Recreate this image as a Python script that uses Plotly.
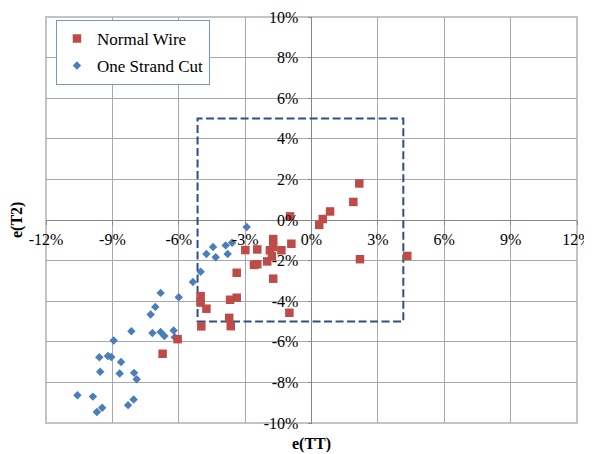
import plotly.graph_objects as go

# Data in percent units
normal_x = [2.16, 1.89, 0.84, 0.51, 0.35, -0.97, -0.91, -1.73, -1.73, -1.88, -1.36, -1.79,
            -2.00, -2.45, -2.99, -2.45, -2.60, -1.73, -3.38, -3.38, -3.68, -3.72, -3.65,
            -5.01, -5.01, -4.75, -4.98, -1.00, 2.19, 4.33, -6.05, -6.73]
normal_y = [1.80, 0.89, 0.42, 0.05, -0.24, 0.18, -1.17, -0.94, -1.33, -1.49, -1.49, -1.79,
            -2.04, -1.45, -1.48, -2.18, -2.21, -2.89, -2.60, -3.83, -3.93, -4.82, -5.23,
            -3.75, -4.07, -4.37, -5.24, -4.57, -1.93, -1.77, -5.87, -6.59]

cut_x = [-10.58, -9.88, -9.70, -9.46, -9.59, -9.55, -9.20, -9.05, -8.94, -8.61, -8.67, -8.14,
         -8.02, -7.90, -8.29, -8.04, -7.19, -7.27, -7.06, -6.82, -6.82, -6.65, -6.23, -6.18,
         -6.00, -5.36, -5.01, -4.75, -4.45, -4.33, -3.88, -3.79, -3.59, -2.93]
cut_y = [-8.63, -8.70, -9.46, -9.25, -6.76, -7.48, -6.70, -6.75, -5.94, -6.99, -7.56, -5.48,
         -7.53, -7.84, -9.12, -8.84, -5.57, -4.66, -4.28, -3.59, -5.52, -5.71, -5.44, -5.78,
         -3.81, -3.05, -2.55, -1.67, -1.33, -1.83, -1.25, -1.67, -1.12, -0.34]

box_x = [-5.15, 4.15]
box_y = [-5.0, 5.0]

x_ticks = list(range(-12, 13, 3))
y_ticks = list(range(-10, 11, 2))

FONT = "Times New Roman, Liberation Serif, serif"

fig = go.Figure()
fig.add_trace(go.Scatter(
    x=cut_x, y=cut_y, mode="markers", name="One Strand Cut",
    marker=dict(symbol="diamond", size=6.5, color="#4a7ebb", line=dict(width=0)),
    legendgroup="b", legendrank=2))
fig.add_trace(go.Scatter(
    x=normal_x, y=normal_y, mode="markers", name="Normal Wire",
    marker=dict(symbol="square", size=8.5, color="#be4b48", line=dict(width=0)),
    legendgroup="a", legendrank=1))

fig.add_shape(type="rect", xref="x", yref="y",
              x0=box_x[0], x1=box_x[1], y0=box_y[0], y1=box_y[1],
              line=dict(color="#2c5085", width=2, dash="8px,3.5px"), layer="between")

# plot area border
fig.add_shape(type="rect", xref="paper", yref="paper", x0=0, x1=1, y0=0, y1=1,
              line=dict(color="#c4c4c4", width=2), layer="below")

common = dict(showgrid=True, gridcolor="#a8a8a8", gridwidth=1,
              zeroline=True, zerolinecolor="#868686", zerolinewidth=1,
              anchor="free", position=0.5, ticks="outside", ticklen=4,
              tickcolor="#868686", showline=False, automargin=False,
              ticklabeloverflow="allow",
              tickfont=dict(family=FONT, size=16, color="black"))

fig.update_xaxes(range=[-12, 12], tickvals=x_ticks,
                 ticktext=[f"{v}%" for v in x_ticks], ticklabelstandoff=1, **common)
fig.update_yaxes(range=[-10, 10], tickvals=y_ticks,
                 ticktext=[f"{v}%" for v in y_ticks], ticklabelstandoff=6, **common)

fig.add_annotation(text="<b>e(TT)</b>", xref="paper", yref="paper", x=0.5, y=0,
                   yshift=-21, yanchor="middle", showarrow=False,
                   font=dict(family=FONT, size=16, color="black"))
fig.add_annotation(text="<b>e(T2)</b>", xref="paper", yref="paper", x=0, y=0.5,
                   xshift=-29, xanchor="center", textangle=-90, showarrow=False,
                   font=dict(family=FONT, size=16, color="black"))

# page body has an 8px default margin: shrink figure and margins to compensate
fig.update_layout(
    template="none",
    font=dict(family=FONT, size=16, color="black"),
    width=584, height=446,
    margin=dict(l=38, r=15, t=9, b=31, autoexpand=False),
    plot_bgcolor="white", paper_bgcolor="white",
    showlegend=True,
    legend=dict(x=0.0188, y=0.993, xanchor="left", yanchor="top",
                bgcolor="white", bordercolor="#7399cb", borderwidth=1,
                font=dict(family=FONT, size=17, color="black"),
                tracegroupgap=2, itemwidth=30),
)

fig.write_html("out.html")
